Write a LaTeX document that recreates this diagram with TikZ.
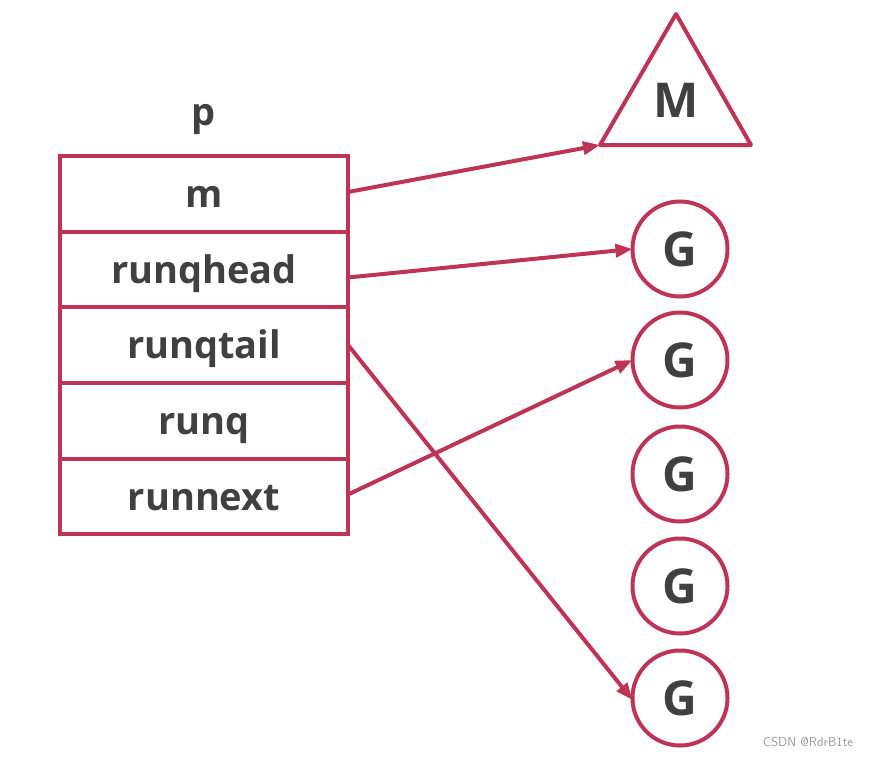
\documentclass[tikz,border=0pt]{standalone}
\usepackage{fontspec}
\setmainfont{Open Sans}
\usetikzlibrary{arrows.meta}
\definecolor{crim}{RGB}{190,52,84}
\definecolor{txt}{RGB}{64,64,64}
\tikzset{
  rowbox/.style={draw=crim, line width=4pt, minimum width=288pt, minimum height=75.6pt,
    inner sep=0pt, outer sep=0pt, text=txt, font=\fontsize{38}{42}\selectfont\bfseries,
    text height=27pt, text depth=0pt},
  gnode/.style={circle, draw=crim, line width=4pt, minimum size=95pt, inner sep=0pt,
    outer sep=0pt, text=txt, font=\fontsize{48}{52}\selectfont\bfseries},
  link/.style={draw=crim, line width=4pt, -{Triangle[length=17pt,width=13pt]}},
}
\begin{document}
\begin{tikzpicture}[x=1pt,y=-1pt]
\useasboundingbox (0,0) rectangle (874,757);
% table
\node[text=txt, font=\fontsize{38}{42}\selectfont\bfseries] (plabel) at (204,119) {p};
\node[rowbox] (m)  at (204,194) {m};
\node[rowbox] (rh) at (204,269.5) {runqhead};
\node[rowbox] (rt) at (204,345) {runqtail};
\node[rowbox] (rq) at (204,421) {runq};
\node[rowbox] (rn) at (204,496.5) {runnext};
% triangle M
\coordinate (tl) at (600,145);
\coordinate (tr) at (751,145);
\coordinate (tt) at (676,14);
\draw[crim, line width=4pt, line join=round] (tl) -- (tt) -- (tr) -- cycle;
\node[text=txt, font=\fontsize{48}{52}\selectfont\bfseries] (M) at (676,100) {M};
% G circles
\node[gnode] (g1) at (680,249) {G};
\node[gnode] (g2) at (680,360) {G};
\node[gnode] (g3) at (680,474) {G};
\node[gnode] (g4) at (680,586) {G};
\node[gnode] (g5) at (680,698) {G};
% arrows
\draw[link] ([yshift=2pt]m.east) -- (tl);
\draw[link] ([yshift=-8pt]rh.east) -- (g1.west);
\draw[link] (rt.east) -- ([yshift=-2pt]g5.west);
\draw[link] ([yshift=2pt]rn.east) -- (g2.west);
% watermark
\node[text=gray!80, font=\fontsize{13}{15}\selectfont\sffamily] (wm) at (808,742) {CSDN @RdrB1te};
\end{tikzpicture}
\end{document}
